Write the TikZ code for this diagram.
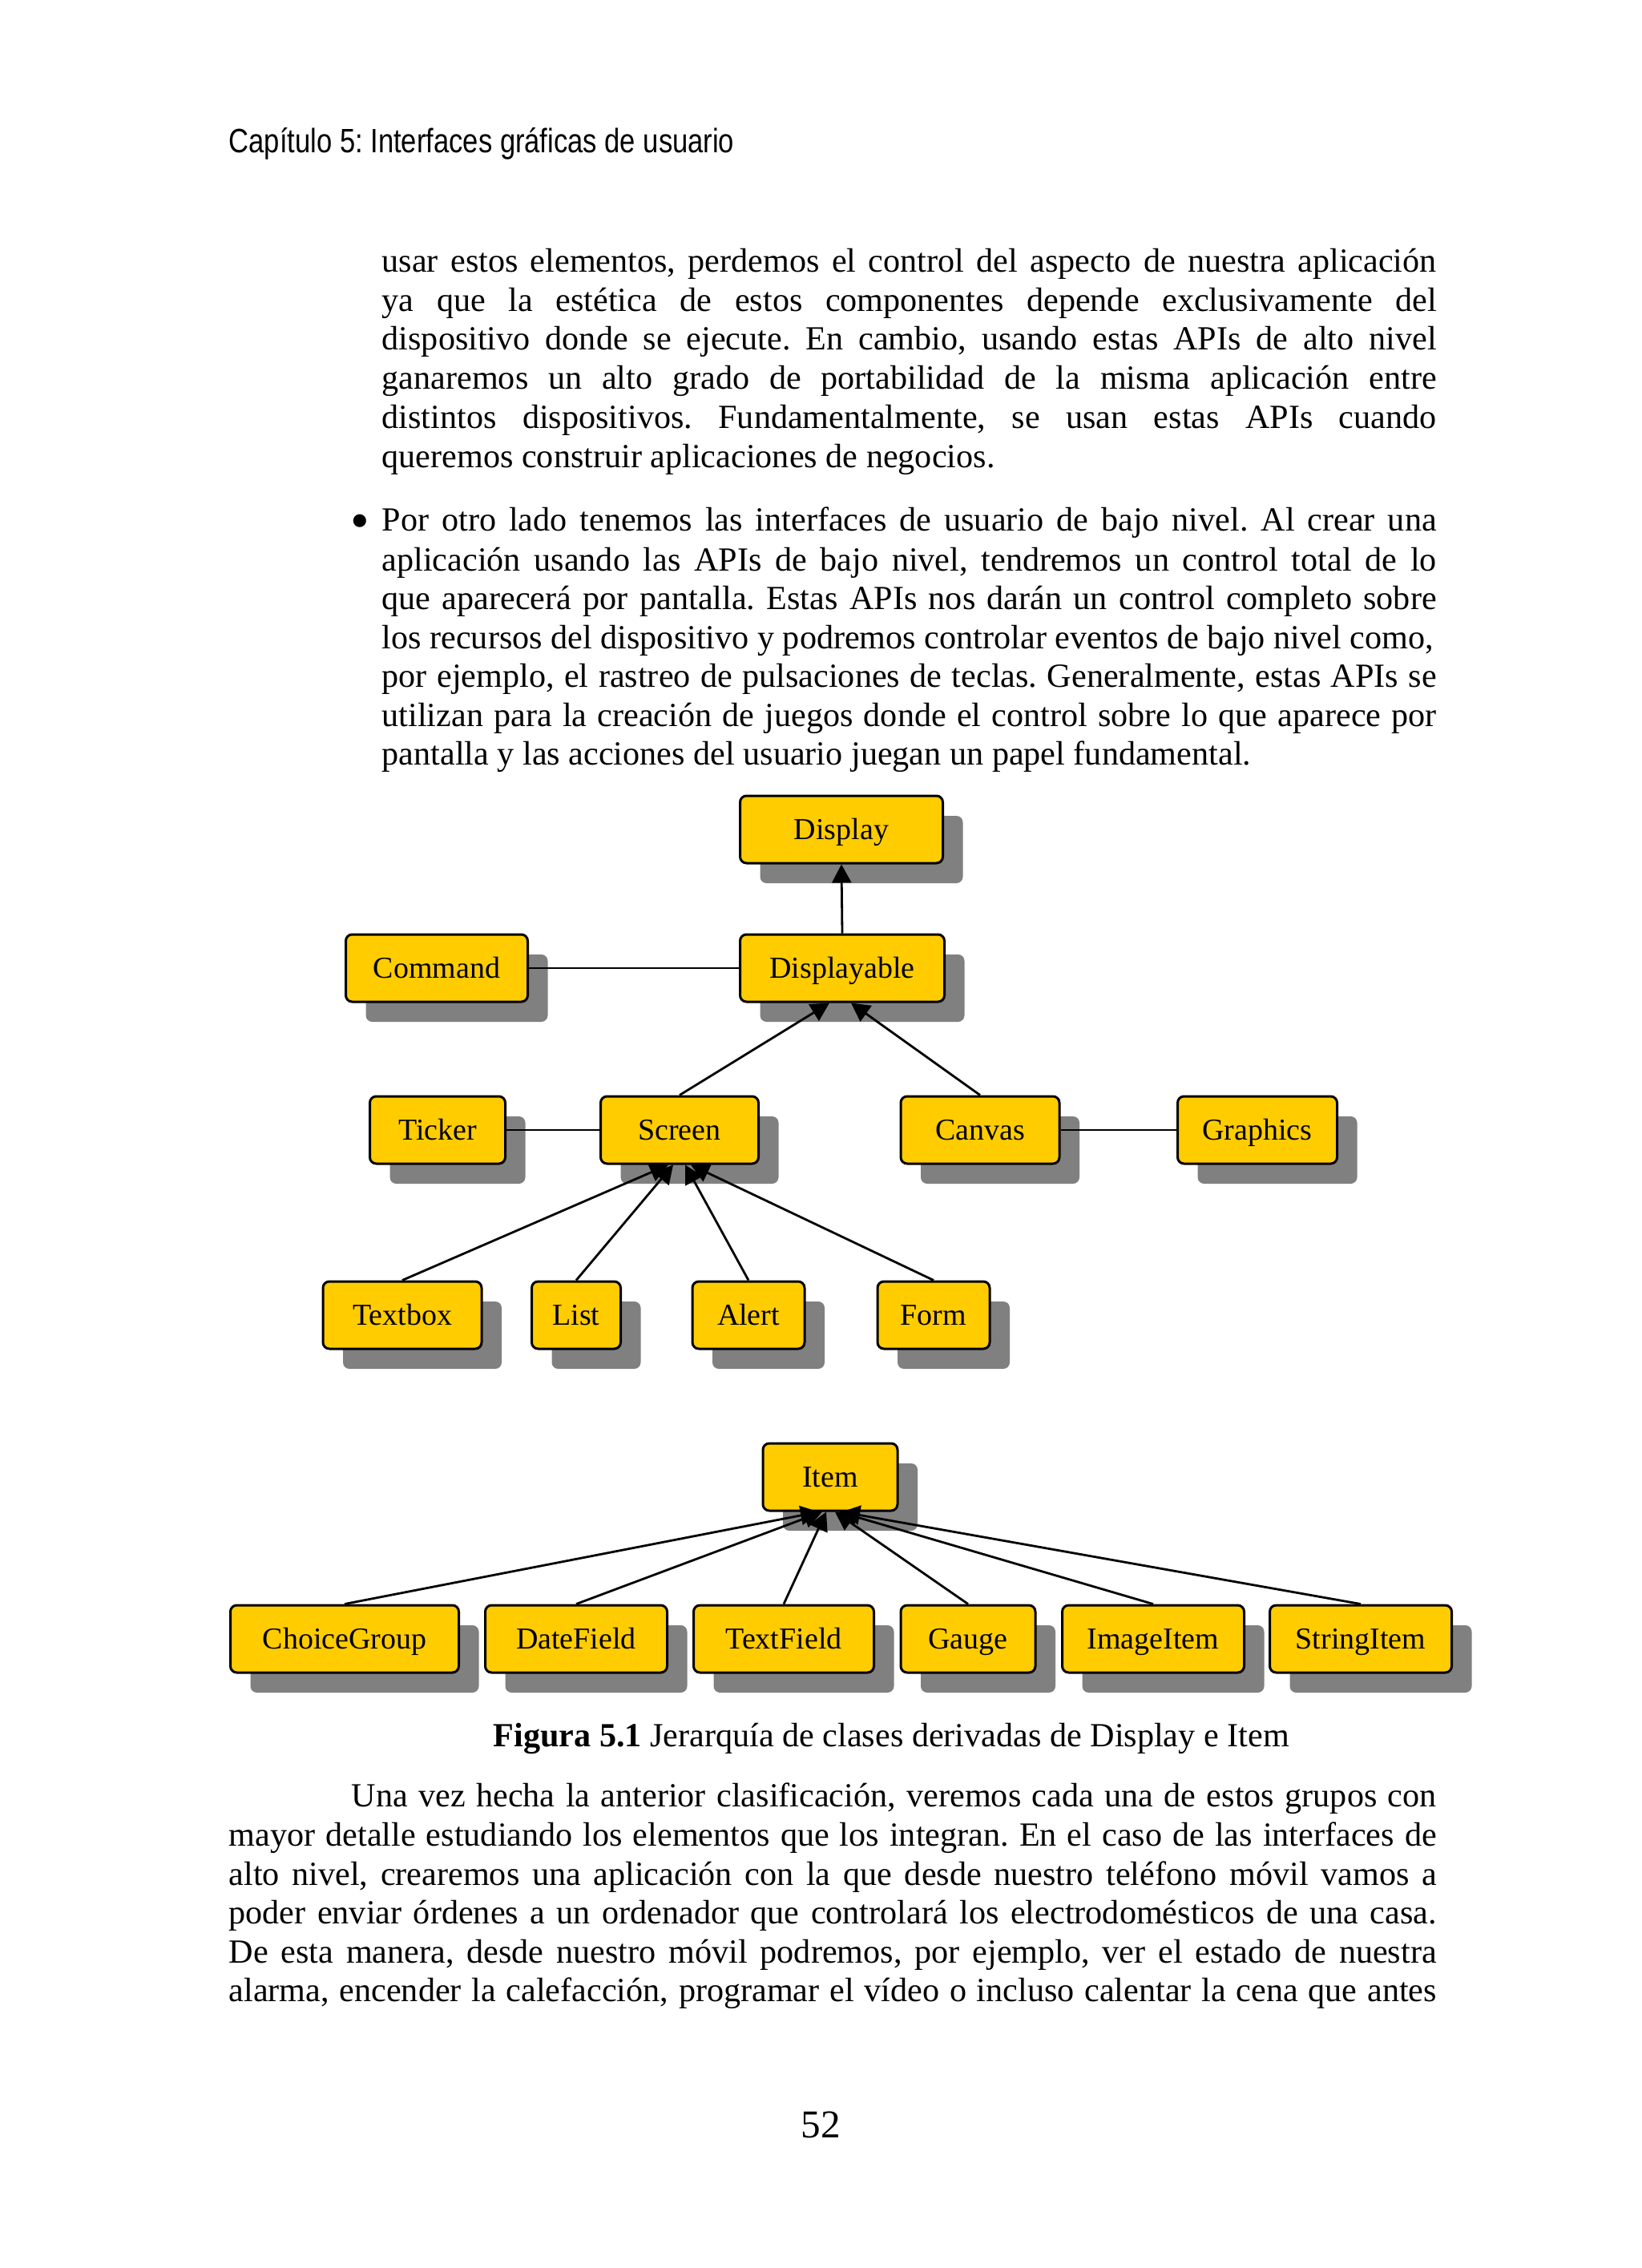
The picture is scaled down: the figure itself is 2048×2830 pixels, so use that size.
\documentclass[tikz,border=0pt]{standalone}
\usepackage{fontspec}
\setmainfont{Liberation Serif}
\newfontfamily\hdrfont[FakeStretch=0.82]{Liberation Sans}
\usetikzlibrary{arrows.meta,shadows,calc}
\definecolor{boxyellow}{HTML}{FFCC00}
\definecolor{shadowgray}{HTML}{808080}
\frenchspacing
\begin{document}
\begin{tikzpicture}[x=0.1mm,y=-0.1mm,
  cls/.style={draw=black, line width=0.3mm, rounded corners=0.8mm, fill=boxyellow,
    minimum width=#1, minimum height=8.4mm, inner sep=0pt, text height=2.4mm, text depth=0mm,
    font=\fontsize{10.8}{12}\selectfont,
    drop shadow={shadow xshift=2.5mm, shadow yshift=-2.5mm, fill=shadowgray, opacity=1}},
  link/.style={line width=0.28mm, draw=black},
  arr/.style={link, -{Triangle[length=2.3mm,width=2.4mm]}},
  txt/.style={anchor=base west, inner sep=0pt, font=\fontsize{12}{14}\selectfont},
  hdr/.style={anchor=base west, inner sep=0pt, font=\hdrfont\fontsize{12}{14}\selectfont}]
\fill[white] (0,0) rectangle (2048,2830);
\useasboundingbox (0,0) rectangle (2048,2830);

% header
\node[hdr] (header) at (285,191) {Capítulo 5: Interfaces gráficas de usuario};

% first paragraph
\node[txt] (a1) at (476,340) {\makebox[131.6mm][s]{usar estos elementos, perdemos el control del aspecto de nuestra aplicación}};
\node[txt] (a2) at (476,389) {\makebox[131.6mm][s]{ya que la estética de estos componentes depende exclusivamente del}};
\node[txt] (a3) at (476,437) {\makebox[131.6mm][s]{dispositivo donde se ejecute. En cambio, usando estas APIs de alto nivel}};
\node[txt] (a4) at (476,486) {\makebox[131.6mm][s]{ganaremos un alto grado de portabilidad de la misma aplicación entre}};
\node[txt] (a5) at (476,535) {\makebox[131.6mm][s]{distintos dispositivos. Fundamentalmente, se usan estas APIs cuando}};
\node[txt] (a6) at (476,584) {queremos construir aplicaciones de negocios.};

% bullet paragraph
\node[txt, anchor=center, font=\fontsize{12}{14}\selectfont] (bul) at (449,657) {\scalebox{1.6}{\textbullet}};
\node[txt] (b1) at (476,663) {\makebox[131.6mm][s]{Por otro lado tenemos las interfaces de usuario de bajo nivel. Al crear una}};
\node[txt] (b2) at (476,712) {\makebox[131.6mm][s]{aplicación usando las APIs de bajo nivel, tendremos un control total de lo}};
\node[txt] (b3) at (476,760) {\makebox[131.6mm][s]{que aparecerá por pantalla. Estas APIs nos darán un control completo sobre}};
\node[txt] (b4) at (476,809) {los recursos del dispositivo y podremos controlar eventos de bajo nivel como,};
\node[txt] (b5) at (476,857) {\makebox[131.6mm][s]{por ejemplo, el rastreo de pulsaciones de teclas. Generalmente, estas APIs se}};
\node[txt] (b6) at (476,906) {\makebox[131.6mm][s]{utilizan para la creación de juegos donde el control sobre lo que aparece por}};
\node[txt] (b7) at (476,954) {pantalla y las acciones del usuario juegan un papel fundamental.};

% diagram 1
\node[cls=25.3mm] (Display) at (1050,1035) {Display};
\node[cls=22.7mm] (Command) at (545,1208) {Command};
\node[cls=25.5mm] (Displayable) at (1051,1208) {Displayable};
\node[cls=16.9mm] (Ticker) at (546,1410) {Ticker};
\node[cls=19.7mm] (Screen) at (848,1410) {Screen};
\node[cls=19.8mm] (Canvas) at (1223,1410) {Canvas};
\node[cls=19.9mm] (Graphics) at (1569,1410) {Graphics};
\node[cls=19.8mm] (Textbox) at (502,1641) {Textbox};
\node[cls=11.1mm] (List) at (719,1641) {List};
\node[cls=14.0mm] (Alert) at (934,1641) {Alert};
\node[cls=14.0mm] (Form) at (1165,1641) {Form};

\draw[arr] (Displayable.north) -- (Display.south);
\draw[link] (Command.east) -- (Displayable.west);
\draw[arr] (Screen.north) -- ($(Displayable.south)+(-16,0)$);
\draw[arr] (Canvas.north) -- ($(Displayable.south)+(11,0)$);
\draw[link] (Ticker.east) -- (Screen.west);
\draw[link] (Canvas.east) -- (Graphics.west);
\draw[arr] (Textbox.north) -- ($(Screen.south)+(-14,0)$);
\draw[arr] (List.north) -- ($(Screen.south)+(-8,0)$);
\draw[arr] (Alert.north) -- ($(Screen.south)+(7,0)$);
\draw[arr] (Form.north) -- ($(Screen.south)+(14,0)$);

% diagram 2
\node[cls=16.8mm] (Item) at (1036,1843) {Item};
\node[cls=28.5mm] (ChoiceGroup) at (430,2045) {ChoiceGroup};
\node[cls=22.7mm] (DateField) at (719,2045) {DateField};
\node[cls=22.5mm] (TextField) at (978,2045) {TextField};
\node[cls=16.8mm] (Gauge) at (1208,2045) {Gauge};
\node[cls=22.7mm] (ImageItem) at (1439,2045) {ImageItem};
\node[cls=22.7mm] (StringItem) at (1698,2045) {StringItem};

\draw[arr] (ChoiceGroup.north) -- ($(Item.south)+(-14,0)$);
\draw[arr] (DateField.north) -- ($(Item.south)+(-10,0)$);
\draw[arr] (TextField.north) -- ($(Item.south)+(-5,0)$);
\draw[arr] (Gauge.north) -- ($(Item.south)+(6,0)$);
\draw[arr] (ImageItem.north) -- ($(Item.south)+(11,0)$);
\draw[arr] (StringItem.north) -- ($(Item.south)+(14,0)$);

% caption
\node[txt] (caption) at (615,2179) {\textbf{Figura 5.1} Jerarquía de clases derivadas de Display e Item};

% last paragraph
\node[txt] (c1) at (438,2254) {\makebox[135.4mm][s]{Una vez hecha la anterior clasificación, veremos cada una de estos grupos con}};
\node[txt] (c2) at (285,2303) {\makebox[150.7mm][s]{mayor detalle estudiando los elementos que los integran. En el caso de las interfaces de}};
\node[txt] (c3) at (285,2352) {\makebox[150.7mm][s]{alto nivel, crearemos una aplicación con la que desde nuestro teléfono móvil vamos a}};
\node[txt] (c4) at (285,2400) {\makebox[150.7mm][s]{poder enviar órdenes a un ordenador que controlará los electrodomésticos de una casa.}};
\node[txt] (c5) at (285,2449) {\makebox[150.7mm][s]{De esta manera, desde nuestro móvil podremos, por ejemplo, ver el estado de nuestra}};
\node[txt] (c6) at (285,2497) {\makebox[150.7mm][s]{alarma, encender la calefacción, programar el vídeo o incluso calentar la cena que antes}};

% page number
\node[txt, anchor=base, font=\fontsize{14}{16}\selectfont] (pagenum) at (1024,2667) {52};
\end{tikzpicture}
\end{document}
